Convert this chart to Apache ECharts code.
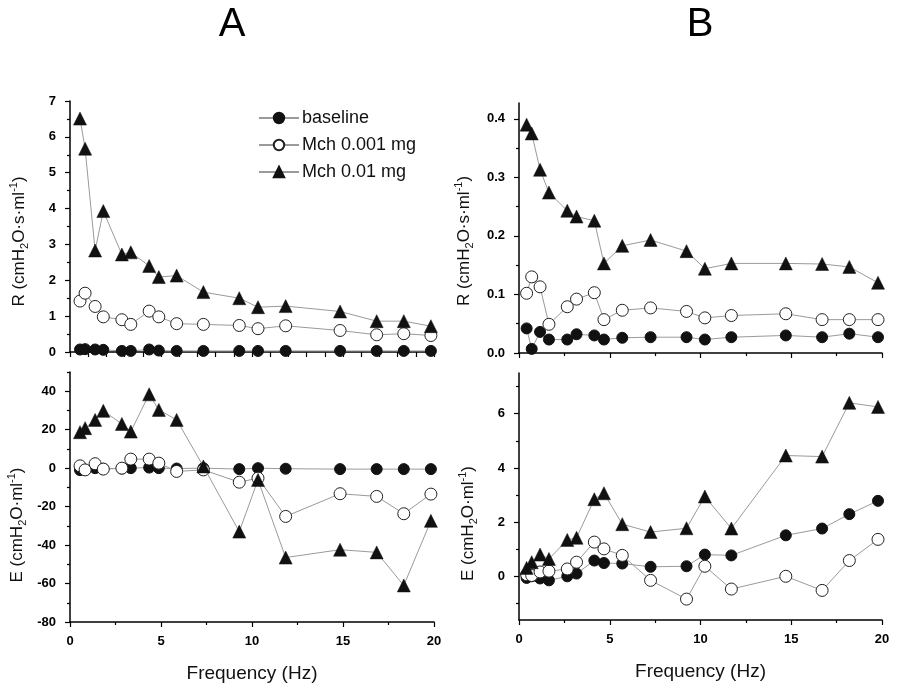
<!DOCTYPE html>
<html>
<head>
<meta charset="utf-8">
<script src="https://cdn.jsdelivr.net/npm/echarts@6/dist/echarts.min.js"></script>
<style>
  html, body { margin: 0; padding: 0; background: #fff; }
  #chart { width: 899px; height: 689px; }
</style>
</head>
<body>
<div id="chart"></div>
<script>
// ---- Data ----
const freqA = [0.55, 0.83, 1.38, 1.83, 2.85, 3.34, 4.35, 4.88, 5.86, 7.33, 9.3, 10.33, 11.85, 14.84, 16.85, 18.34, 19.83];
const freqB = [0.42, 0.7, 1.16, 1.65, 2.66, 3.17, 4.15, 4.68, 5.69, 7.25, 9.23, 10.24, 11.7, 14.7, 16.7, 18.2, 19.78];

const seriesNames = ['baseline', 'Mch 0.001 mg', 'Mch 0.01 mg'];

// Panel A, R
const RA_base = [0.07, 0.08, 0.07, 0.06, 0.03, 0.03, 0.07, 0.04, 0.03, 0.03, 0.03, 0.03, 0.03, 0.03, 0.03, 0.03, 0.03];
const RA_low  = [1.42, 1.64, 1.27, 0.98, 0.90, 0.77, 1.14, 0.98, 0.79, 0.77, 0.74, 0.65, 0.73, 0.60, 0.48, 0.51, 0.46];
const RA_high = [6.51, 5.67, 2.83, 3.93, 2.72, 2.78, 2.40, 2.09, 2.13, 1.67, 1.50, 1.25, 1.28, 1.13, 0.86, 0.86, 0.72];

// Panel A, E
const EA_base = [-1, -1, 0, -0.3, -0.2, 0, 0.3, 0, -0.2, 0, -0.5, 0, -0.3, -0.5, -0.5, -0.5, -0.5];
const EA_low  = [1.2, -0.9, 2.3, -0.5, 0, 4.7, 4.7, 2.6, -1.7, -0.9, -7.3, -5.2, -25.1, -13.3, -14.7, -23.7, -13.5];
const EA_high = [18.7, 20.8, 25.1, 29.8, 23.0, 19.0, 38.4, 30.3, 25.1, 0.9, -33, -6.1, -46.5, -42.4, -43.8, -61.0, -27.4];

// Panel B, R
const RB_base = [0.042, 0.007, 0.036, 0.023, 0.023, 0.032, 0.030, 0.023, 0.026, 0.027, 0.027, 0.023, 0.027, 0.030, 0.027, 0.033, 0.027];
const RB_low  = [0.102, 0.130, 0.113, 0.049, 0.079, 0.092, 0.103, 0.057, 0.073, 0.077, 0.071, 0.060, 0.064, 0.067, 0.057, 0.057, 0.057];
const RB_high = [0.390, 0.375, 0.313, 0.274, 0.243, 0.233, 0.226, 0.153, 0.183, 0.193, 0.174, 0.144, 0.153, 0.153, 0.152, 0.147, 0.120];

// Panel B, E
const EB_base = [-0.05, 0.01, -0.07, -0.14, 0.01, 0.11, 0.59, 0.50, 0.48, 0.36, 0.38, 0.81, 0.78, 1.52, 1.77, 2.30, 2.79];
const EB_low  = [0.07, 0.04, 0.17, 0.20, 0.28, 0.53, 1.27, 1.02, 0.78, -0.14, -0.83, 0.38, -0.46, 0.01, -0.51, 0.59, 1.37];
const EB_high = [0.32, 0.53, 0.81, 0.65, 1.35, 1.43, 2.85, 3.07, 1.93, 1.64, 1.78, 2.95, 1.77, 4.46, 4.42, 6.40, 6.25];

// Tick values
const RA_major = [0, 1, 2, 3, 4, 5, 6, 7];
const RA_minor = [0.5, 1.5, 2.5, 3.5, 4.5, 5.5, 6.5];
const EA_major = [-80, -60, -40, -20, 0, 20, 40];
const EA_minor = [-70, -50, -30, -10, 10, 30, 50];
const RB_major = [0, 0.1, 0.2, 0.3, 0.4];
const RB_minor = [0.05, 0.15, 0.25, 0.35];
const EB_major = [0, 2, 4, 6];
const EB_minor = [-1, 1, 3, 5, 7];

// ---- Styling helpers ----
const FONT = 'Liberation Sans, Arial, sans-serif';
const lineGray = '#9a9a9a';

function zip(xs, ys) { return xs.map((x, i) => [x, ys[i]]); }

const symbolStyles = [
  { symbol: 'circle', symbolSize: 11, itemStyle: { color: '#111', borderColor: '#111', borderWidth: 1 } },
  { symbol: 'circle', symbolSize: 12, itemStyle: { color: '#fff', borderColor: '#222', borderWidth: 1 } },
  { symbol: 'triangle', symbolSize: 13, itemStyle: { color: '#111', borderColor: '#111', borderWidth: 0.5 } }
];

function mkSeries(gridIdx, xs, arrs) {
  return arrs.map((ys, k) => Object.assign({
    type: 'line',
    name: seriesNames[k],
    xAxisIndex: gridIdx,
    yAxisIndex: gridIdx,
    data: zip(xs, ys),
    lineStyle: { color: lineGray, width: 1 },
    showAllSymbol: true,
    emphasis: { disabled: true },
    z: 2 + k
  }, symbolStyles[k]));
}

const axisLineStyle = { show: true, onZero: false, lineStyle: { color: '#000', width: 1.5 } };
const labelStyle = { fontFamily: FONT, fontWeight: 'bold', fontSize: 13, color: '#000' };

function mkX(gridIdx, showLabels, interval, minor) {
  return {
    type: 'value', gridIndex: gridIdx, min: 0, max: 20, interval: interval,
    position: 'bottom',
    axisLine: axisLineStyle,
    axisTick: { show: true, inside: false, length: 5, lineStyle: { color: '#000', width: 1.2 } },
    minorTick: { show: minor, splitNumber: 2, length: 3, lineStyle: { color: '#000', width: 1.2 } },
    axisLabel: Object.assign({ show: showLabels, margin: 13 }, labelStyle),
    splitLine: { show: false },
    minorSplitLine: { show: false },
    name: showLabels ? 'Frequency (Hz)' : '',
    nameLocation: 'middle',
    nameGap: 42,
    nameTextStyle: { fontFamily: FONT, fontSize: 19, color: '#111' }
  };
}

function mkY(gridIdx, min, max, majors, nameRich, nameGap, padRight, fmt) {
  return {
    type: 'value', gridIndex: gridIdx, min: min, max: max, position: 'left',
    axisLine: axisLineStyle,
    axisTick: { show: true, inside: false, length: 5, customValues: majors, lineStyle: { color: '#000', width: 1.2 } },
    axisLabel: Object.assign({ show: true, margin: 14, customValues: majors, formatter: fmt }, labelStyle),
    splitLine: { show: false },
    name: nameRich,
    nameLocation: 'middle',
    nameGap: nameGap,
    nameTextStyle: {
      fontFamily: FONT, fontSize: 17, color: '#111',
      padding: [0, padRight, 0, 0],
      rich: {
        t: { fontFamily: FONT, fontSize: 17, color: '#111', lineHeight: 22, verticalAlign: 'middle' },
        sub: { fontFamily: FONT, fontSize: 11, color: '#111', lineHeight: 22, verticalAlign: 'bottom' },
        sup: { fontFamily: FONT, fontSize: 11, color: '#111', lineHeight: 22, verticalAlign: 'top' }
      }
    }
  };
}

function mkYMinor(gridIdx, min, max, minors) {
  return {
    type: 'value', gridIndex: gridIdx, min: min, max: max, position: 'left',
    axisLine: { show: false, onZero: false },
    axisTick: { show: true, inside: false, length: 3, customValues: minors, lineStyle: { color: '#000', width: 1.2 } },
    axisLabel: { show: false },
    splitLine: { show: false }
  };
}

const Rname = '{t|R (cmH}{sub|2}{t|O·s·ml}{sup|-1}{t|)}';
const Ename = '{t|E (cmH}{sub|2}{t|O·ml}{sup|-1}{t|)}';

const grids = [
  { left: 70, top: 101, width: 364, height: 251 },
  { left: 70, top: 372, width: 364, height: 250 },
  { left: 519, top: 103, width: 363, height: 250 },
  { left: 519, top: 373, width: 363, height: 247 }
];

const option = {
  animation: false,
  backgroundColor: '#fff',
  title: [
    { text: 'A', left: 227, top: 0, textAlign: 'center', textStyle: { fontFamily: FONT, fontSize: 40, fontWeight: 'normal', color: '#000' } },
    { text: 'B', left: 695, top: 0, textAlign: 'center', textStyle: { fontFamily: FONT, fontSize: 40, fontWeight: 'normal', color: '#000' } }
  ],
  legend: {
    orient: 'vertical',
    left: 253, top: 104,
    itemWidth: 40, itemHeight: 13, itemGap: 9,
    data: seriesNames,
    textStyle: { fontFamily: FONT, fontSize: 18, color: '#111', padding: [0, 0, 0, -2] },
    selectedMode: false
  },
  grid: grids.map(g => Object.assign({ containLabel: false }, g)),
  xAxis: [
    mkX(0, false, 1, false),
    mkX(1, true, 5, true),
    mkX(2, false, 5, true),
    mkX(3, true, 5, true)
  ],
  yAxis: [
    mkY(0, 0, 7, RA_major, Rname, 40, 30, v => String(v)),
    mkY(1, -80, 50, EA_major, Ename, 42, 56, v => String(v)),
    mkY(2, 0, 0.427, RB_major, Rname, 44, 26, v => v.toFixed(1)),
    mkY(3, -1.6, 7.5, EB_major, Ename, 40, 54, v => String(v)),
    mkYMinor(0, 0, 7, RA_minor),
    mkYMinor(1, -80, 50, EA_minor),
    mkYMinor(2, 0, 0.427, RB_minor),
    mkYMinor(3, -1.6, 7.5, EB_minor)
  ],
  series: [].concat(
    mkSeries(0, freqA, [RA_base, RA_low, RA_high]),
    mkSeries(1, freqA, [EA_base, EA_low, EA_high]),
    mkSeries(2, freqB, [RB_base, RB_low, RB_high]),
    mkSeries(3, freqB, [EB_base, EB_low, EB_high])
  )
};

const chart = echarts.init(document.getElementById('chart'), null, { renderer: 'canvas' });
chart.setOption(option);
</script>
</body>
</html>
